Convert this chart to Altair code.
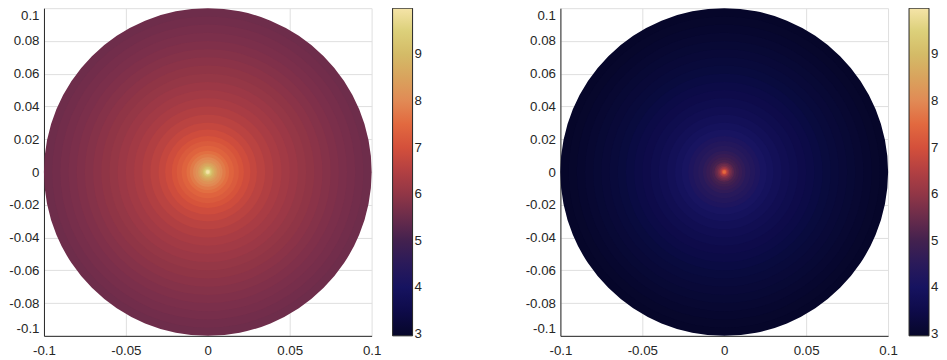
import altair as alt
import pandas as pd

# ring radii (outer edge of each filled disk), largest first
radii = [0.1, 0.095, 0.09, 0.085, 0.08, 0.075, 0.07, 0.065, 0.06, 0.055,
         0.05, 0.045, 0.04, 0.035, 0.03, 0.026, 0.022, 0.019, 0.016, 0.013,
         0.011, 0.009, 0.0075, 0.006, 0.005, 0.004, 0.003, 0.0022, 0.0015, 0.001]

# value read at each radius, left panel
left_values = [5.55, 5.60, 5.66, 5.71, 5.77, 5.84, 5.91, 5.98, 6.06, 6.15,
               6.24, 6.35, 6.47, 6.60, 6.75, 6.90, 7.06, 7.21, 7.38, 7.59,
               7.76, 7.96, 8.14, 8.36, 8.55, 8.77, 9.06, 9.37, 9.75, 9.99]

# value read at each radius, right panel
right_values = [2.96, 3.00, 3.04, 3.09, 3.14, 3.19, 3.25, 3.30, 3.37, 3.44,
                3.51, 3.60, 3.69, 3.80, 3.92, 4.04, 4.17, 4.29, 4.43, 4.59,
                4.73, 4.89, 5.05, 5.30, 5.50, 5.75, 6.10, 6.50, 7.00, 7.50]

# axis extent (corners of the square axes box)
axis_x = [-0.1, 0.1]
axis_y = [-0.1, 0.1]
x_ticks = [-0.1, -0.05, 0, 0.05, 0.1]
y_ticks = [-0.1, -0.08, -0.06, -0.04, -0.02, 0, 0.02, 0.04, 0.06, 0.08, 0.1]
cbar_ticks = [3, 4, 5, 6, 7, 8, 9]

cmap_stops = [2.96, 3.5, 4.0, 4.5, 5.0, 5.5, 6.0, 6.5, 7.0, 7.5, 8.0, 8.5, 9.0, 9.5, 9.99]
cmap_colors = ["#06062a", "#0e0b4a", "#161360", "#2a1a5a", "#43214f", "#6a2c4b",
               "#913646", "#b34042", "#d4503b", "#e2693f", "#e18a55", "#d9a35d",
               "#d4bb67", "#dcd07a", "#f5e4a8"]

FONT = "Liberation Sans"
TXT = "#262626"
W = 328


def panel(values):
    frame = pd.DataFrame({"x": axis_x, "y": axis_y})
    axes = (
        alt.Chart(frame)
        .mark_point(opacity=0, size=0)
        .encode(
            x=alt.X("x:Q", scale=alt.Scale(domain=[-0.1, 0.1], nice=False, zero=False),
                    axis=alt.Axis(values=x_ticks, title=None, labelPadding=8, labelFlush=False,
                                  labelExpr="'' + round(datum.value*100)/100")),
            y=alt.Y("y:Q", scale=alt.Scale(domain=[-0.1, 0.1], nice=False, zero=False),
                    axis=alt.Axis(values=y_ticks, title=None, labelPadding=5, labelFlush=True,
                                  labelExpr="'' + round(datum.value*100)/100")),
        )
    )
    df = pd.DataFrame({"r": radii, "v": values})
    disk = (
        alt.Chart(df)
        .mark_arc(theta=0, theta2=6.2832)
        .encode(
            radius=alt.Radius("r:Q", stack=False,
                              scale=alt.Scale(type="linear", domain=[0, 0.1],
                                              range=[0, W / 2], zero=True)),
            color=alt.Color(
                "v:Q",
                scale=alt.Scale(domain=cmap_stops, range=cmap_colors),
                legend=alt.Legend(
                    title=None, orient="right", offset=21, direction="vertical",
                    gradientLength=W, gradientThickness=20, values=cbar_ticks,
                    format="d", labelFontSize=13.3, labelFont=FONT, labelColor=TXT,
                    gradientStrokeColor=TXT, gradientStrokeWidth=1, labelOffset=2,
                    padding=0,
                ),
            ),
        )
    )
    return alt.layer(axes, disk).properties(width=W, height=W)


chart = (
    alt.hconcat(panel(left_values), panel(right_values), spacing=102)
    .resolve_scale(color="independent")
    .resolve_legend(color="independent")
    .properties(padding={"left": 0, "top": 0, "right": 0, "bottom": 0})
    .configure_view(strokeWidth=0)
    .configure_axis(
        domainColor=TXT, domainWidth=1, gridColor="#dfdfdf", gridWidth=1,
        ticks=False, labelFont=FONT, labelFontSize=13.3, labelColor=TXT,
    )
)

chart.save("out.html", embed_options={"renderer": "svg", "actions": False})
